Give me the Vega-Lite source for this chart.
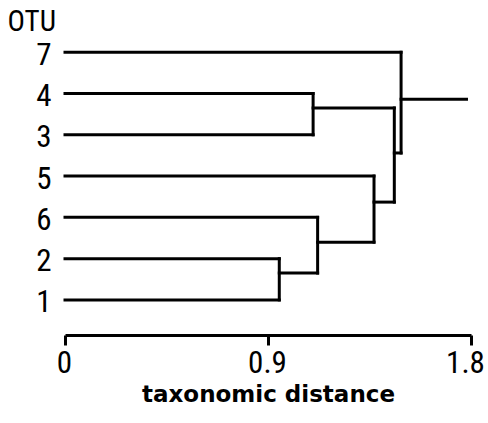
{
  "$schema": "https://vega.github.io/schema/vega-lite/v6.json",
  "autosize": "none",
  "width": 406,
  "height": 324,
  "padding": {"left": 65, "top": 11, "right": 17, "bottom": 88},
  "background": "white",
  "config": {"view": {"stroke": null}},
  "data": {
    "values": [
      {"x": 0, "x2": 1.49, "y": 7, "y2": 7},
      {"x": 0, "x2": 1.1, "y": 6, "y2": 6},
      {"x": 0, "x2": 1.1, "y": 5, "y2": 5},
      {"x": 0, "x2": 1.37, "y": 4, "y2": 4},
      {"x": 0, "x2": 1.12, "y": 3, "y2": 3},
      {"x": 0, "x2": 0.95, "y": 2, "y2": 2},
      {"x": 0, "x2": 0.95, "y": 1, "y2": 1},
      {"x": 0.95, "x2": 0.95, "y": 1, "y2": 2},
      {"x": 0.95, "x2": 1.12, "y": 1.65, "y2": 1.65},
      {"x": 1.12, "x2": 1.12, "y": 1.65, "y2": 3},
      {"x": 1.12, "x2": 1.37, "y": 2.4, "y2": 2.4},
      {"x": 1.37, "x2": 1.37, "y": 2.4, "y2": 4},
      {"x": 1.37, "x2": 1.46, "y": 3.37, "y2": 3.37},
      {"x": 1.1, "x2": 1.1, "y": 5, "y2": 6},
      {"x": 1.1, "x2": 1.46, "y": 5.65, "y2": 5.65},
      {"x": 1.46, "x2": 1.46, "y": 3.37, "y2": 5.65},
      {"x": 1.46, "x2": 1.49, "y": 4.56, "y2": 4.56},
      {"x": 1.49, "x2": 1.49, "y": 4.56, "y2": 7},
      {"x": 1.49, "x2": 1.78, "y": 5.86, "y2": 5.86}
    ]
  },
  "mark": {"type": "rule", "color": "black", "strokeWidth": 3, "strokeCap": "square"},
  "encoding": {
    "x": {
      "field": "x",
      "type": "quantitative",
      "scale": {"domain": [0, 1.8], "nice": false, "zero": false},
      "axis": {
        "title": "taxonomic distance",
        "titleFont": "DejaVu Sans",
        "titleFontSize": 23,
        "titleFontWeight": "bold",
        "titleColor": "black",
        "titlePadding": 5,
        "values": [0, 0.9, 1.8],
        "labelExpr": "datum.value == 0 ? '0' : format(datum.value, '.1f')",
        "labelFont": "Liberation Sans Narrow, Roboto Condensed, Liberation Sans",
        "labelFontSize": 31,
        "labelColor": "black",
        "labelPadding": 3,
        "labelOffset": {"condition": {"test": "datum.value == 1.8", "value": -6}, "value": -1},
        "labelFlush": false,
        "domainColor": "black",
        "domainWidth": 3,
        "tickColor": "black",
        "tickWidth": 3,
        "tickSize": 10,
        "grid": false
      }
    },
    "x2": {"field": "x2"},
    "y": {
      "field": "y",
      "type": "quantitative",
      "scale": {"domain": [0.15, 8], "nice": false, "zero": false},
      "axis": {
        "title": "OTU",
        "titleAngle": 0,
        "titleAlign": "left",
        "titleBaseline": "middle",
        "titleX": -58,
        "titleY": 10,
        "titleFont": "Liberation Sans Narrow, Roboto Condensed, Liberation Sans",
        "titleFontSize": 29,
        "titleFontWeight": "normal",
        "titleColor": "black",
        "values": [1, 2, 3, 4, 5, 6, 7],
        "labelExpr": "['', '1', '2', '6', '5', '3', '4', '7'][datum.value]",
        "labelFont": "Liberation Sans Narrow, Roboto Condensed, Liberation Sans",
        "labelFontSize": 31,
        "labelColor": "black",
        "labelPadding": 14,
        "labelOffset": 3,
        "domain": false,
        "ticks": false,
        "grid": false
      }
    },
    "y2": {"field": "y2"}
  }
}
